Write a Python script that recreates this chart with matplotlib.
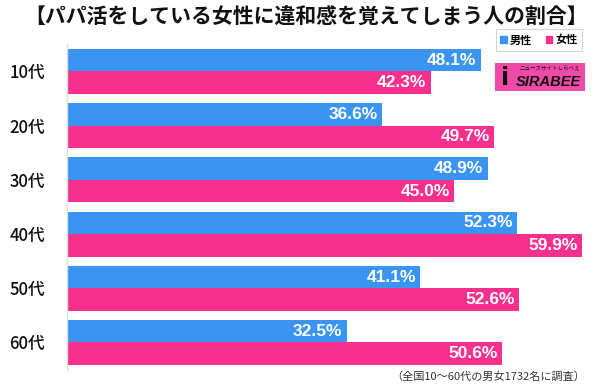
import matplotlib
matplotlib.use("Agg")
import matplotlib.pyplot as plt
from matplotlib.patches import Rectangle, Patch

plt.rcParams['font.family'] = ['Noto Sans CJK JP', 'DejaVu Sans']

categories = ["10代", "20代", "30代", "40代", "50代", "60代"]
male = [48.1, 36.6, 48.9, 52.3, 41.1, 32.5]
female = [42.3, 49.7, 45.0, 59.9, 52.6, 50.6]
title = "【パパ活をしている女性に違和感を覚えてしまう人の割合】"
note = "（全国10～60代の男女1732名に調査）"
legend_labels = ["男性", "女性"]

BLUE = "#3a95f2"
PINK = "#f72f8d"

W, H = 600, 389
fig = plt.figure(figsize=(W / 100, H / 100), dpi=100)
ax = fig.add_axes([67 / W, 0.05, 1 - 67 / W, 0.836])

bh = 0.415
ys = list(range(len(categories)))
ax.barh([y - bh / 2 for y in ys], male, height=bh, color=BLUE, zorder=2)
ax.barh([y + bh / 2 for y in ys], female, height=bh, color=PINK, zorder=2)

for y, m, f in zip(ys, male, female):
    ax.text(m - 0.5, y - bh / 2, f"{m:.1f}%", color="white", fontsize=12.5,
            fontweight="bold", ha="right", va="center", family="Liberation Sans", zorder=3)
    ax.text(f - 0.5, y + bh / 2, f"{f:.1f}%", color="white", fontsize=12.5,
            fontweight="bold", ha="right", va="center", family="Liberation Sans", zorder=3)

ax.set_ylim(len(categories) - 0.5, -0.5)
ax.set_xlim(0, (W - 67) / 8.6)
ax.set_yticks(ys)
ax.set_yticklabels(categories, fontsize=12, fontweight="medium", color="#111111")
ax.tick_params(axis="y", length=0, pad=16)
ax.set_xticks([])
for s in ["top", "right", "bottom"]:
    ax.spines[s].set_visible(False)
ax.spines["left"].set_color("#dddddd")
ax.spines["left"].set_linewidth(1.0)
ax.patch.set_alpha(0)

fig.text(0.5 * (28 + 584) / W, 1 - 16 / H, title, fontsize=15, fontweight="bold",
         ha="center", va="center", color="#111111")
fig.text(585 / W, 1 - 377 / H, note, fontsize=8, ha="right", va="center", color="#333333")

handles = [Patch(color=BLUE), Patch(color=PINK)]
leg = fig.legend(handles, legend_labels, loc="center", bbox_to_anchor=(539 / W, 1 - 40 / H),
                 ncol=2, frameon=True, handlelength=0.6, handleheight=0.6,
                 handletextpad=0.3, columnspacing=1.2, borderpad=0.4, fancybox=False,
                 prop={"weight": "bold", "size": 8})
leg.get_frame().set_edgecolor("#cccccc")
leg.get_frame().set_linewidth(0.8)

# logo
fig.patches.append(Rectangle((495 / W, 1 - 91 / H), 90 / W, 28 / H, transform=fig.transFigure,
                             facecolor="#f04aa8", edgecolor="none"))
fig.text(548 / W, 1 - 82 / H, "SIRABEE", fontsize=10.5, fontweight="bold", style="italic",
         ha="center", va="center", color="#111111", family="Liberation Sans")
fig.text(550 / W, 1 - 69 / H, "ニュースサイトしらべぇ", fontsize=4, ha="center", va="center",
         color="#111111")
fig.text(505 / W, 1 - 78 / H, "i", fontsize=17, fontweight="bold", ha="center", va="center",
         color="#111111", family="DejaVu Sans")

fig.savefig("out.png", dpi=100)
